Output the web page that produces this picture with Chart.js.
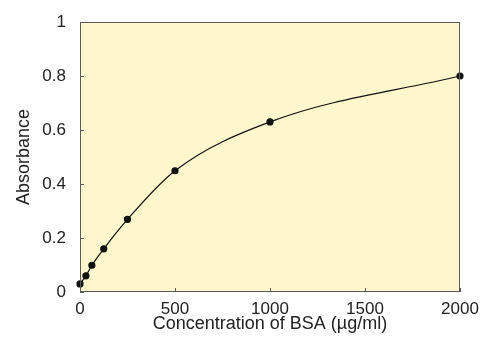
<!DOCTYPE html>
<html lang="en">
<head>
  <meta charset="UTF-8">
  <title>BSA standard curve</title>
  <script src="https://cdn.jsdelivr.net/npm/chart.js"></script>
  <style>
    html, body { margin: 0; padding: 0; background: #fff; }
    #wrap { width: 483px; height: 340px; }
  </style>
</head>
<body>
  <div id="wrap"><canvas id="chart" width="483" height="340"></canvas></div>

  <script>
    // BSA standard concentrations (µg/ml) and measured absorbance
    const concentrations = [0, 31.25, 62.5, 125, 250, 500, 1000, 2000];
    const absorbance = [0.03, 0.06, 0.099, 0.16, 0.269, 0.449, 0.63, 0.80];
    const xTicks = [0, 500, 1000, 1500, 2000];
    const yTicks = [0, 0.2, 0.4, 0.6, 0.8, 1];

    const textColor = '#222222';
    const frameColor = '#5a5a5a';
    const fontFamily = 'Liberation Sans, Arial, sans-serif';

    // yellow plot background, frame and small inward ticks
    const framePlugin = {
      id: 'frame',
      beforeDraw(chart) {
        const { ctx, chartArea: a } = chart;
        ctx.save();
        ctx.fillStyle = '#fef6cc';
        ctx.fillRect(a.left, a.top, a.right - a.left, a.bottom - a.top);
        ctx.restore();
      },
      afterDatasetsDraw(chart) {
        const { ctx, chartArea: a, scales } = chart;
        ctx.save();
        ctx.strokeStyle = frameColor;
        ctx.lineWidth = 1;
        ctx.strokeRect(a.left + 0.5, a.top + 0.5, a.right - a.left - 1, a.bottom - a.top - 1);
        ctx.beginPath();
        xTicks.forEach(v => {
          const x = Math.round(scales.x.getPixelForValue(v)) + 0.5;
          ctx.moveTo(x, a.bottom);
          ctx.lineTo(x, a.bottom - 4);
        });
        yTicks.forEach(v => {
          const y = Math.round(scales.y.getPixelForValue(v)) + 0.5;
          ctx.moveTo(a.left, y);
          ctx.lineTo(a.left + 4, y);
        });
        ctx.stroke();
        ctx.restore();
      }
    };

    const ctx = document.getElementById('chart').getContext('2d');
    new Chart(ctx, {
      type: 'scatter',
      data: {
        datasets: [{
          data: concentrations.map((c, i) => ({ x: c, y: absorbance[i] })),
          showLine: true,
          cubicInterpolationMode: 'monotone',
          borderColor: '#111111',
          borderWidth: 1.2,
          pointBackgroundColor: '#111111',
          pointBorderColor: '#111111',
          pointRadius: 3,
          clip: false
        }]
      },
      options: {
        responsive: false,
        animation: false,
        layout: { padding: { left: 0, right: 23, top: 22, bottom: 0 } },
        plugins: { legend: { display: false }, tooltip: { enabled: false } },
        scales: {
          x: {
            type: 'linear',
            min: 0, max: 2000,
            afterBuildTicks(scale) { scale.ticks = xTicks.map(v => ({ value: v })); },
            afterFit(scale) { scale.height = 48; },
            grid: { display: false },
            border: { display: false },
            ticks: {
              color: textColor,
              font: { family: fontFamily, size: 17, lineHeight: 1 },
              padding: 1,
              maxRotation: 0,
              callback: v => String(v)
            },
            title: {
              display: true,
              text: 'Concentration of BSA (µg/ml)',
              color: textColor,
              font: { family: fontFamily, size: 18, lineHeight: 1 },
              padding: { top: 0, bottom: 7 }
            }
          },
          y: {
            type: 'linear',
            min: 0, max: 1,
            afterBuildTicks(scale) { scale.ticks = yTicks.map(v => ({ value: v })); },
            afterFit(scale) { scale.width = 80; },
            grid: { display: false },
            border: { display: false },
            ticks: {
              color: textColor,
              font: { family: fontFamily, size: 17, lineHeight: 1 },
              padding: 6,
              callback: v => String(Math.round(v * 10) / 10)
            },
            title: {
              display: true,
              text: 'Absorbance',
              color: textColor,
              font: { family: fontFamily, size: 18, lineHeight: 1 },
              padding: { top: 15, bottom: 0 }
            }
          }
        }
      },
      plugins: [framePlugin]
    });
  </script>
</body>
</html>
